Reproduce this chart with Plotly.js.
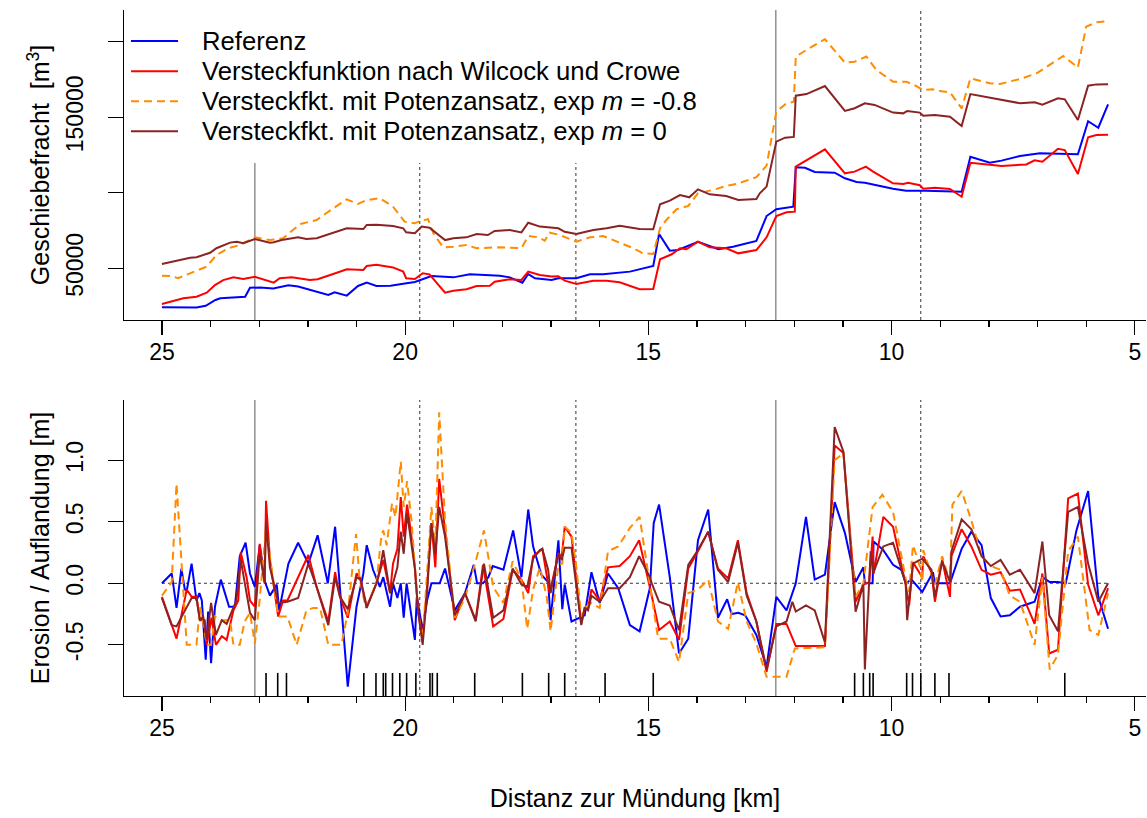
<!DOCTYPE html>
<html>
<head>
<meta charset="utf-8">
<script src="https://cdn.plot.ly/plotly-3.0.1.min.js"></script>
<style>
  html, body { margin: 0; padding: 0; background: #ffffff; }
  #chart { width: 1147px; height: 818px; }
</style>
</head>
<body>
<div id="chart"></div>
<script>
// ---- Geschiebefracht (cumulative bedload volume, m^3) per model ----
const refKm = [25.0,24.29,24.1,23.9,23.8,23.29,23.19,22.98,22.71,22.4,
  22.2,21.99,21.79,21.58,21.45,21.2,20.97,20.79,20.59,20.3,
  20.04,19.8,19.46,19.01,18.67,18.3,18.05,17.85,17.59,17.47,
  17.33,16.99,16.85,16.48,16.2,15.93,15.38,14.9,14.78,14.56,
  14.39,13.98,13.56,13.26,12.78,12.57,12.37,12.02,11.97,11.78,
  11.58,11.17,10.96,10.72,10.55,9.97,9.7,9.3,9.15,8.8,
  8.56,8.38,7.98,7.74,7.36,6.95,6.64,6.17,5.96,5.75,5.55];
const refVol = [24200,24000,25200,29000,30200,31200,37100,37300,36700,38700,
  38000,36100,34600,32300,34100,31900,38300,40500,38300,38500,
  39800,40900,44900,44000,46000,45500,45100,44000,40500,46200,
  43400,42300,43400,43400,46000,46000,47800,51500,72700,61700,
  62100,67600,62600,64300,68100,84600,89100,90800,116900,116600,
  113800,113300,109600,107200,106700,102700,101400,101400,101200,101200,
  100700,123900,119900,121300,124400,126200,126000,125500,147400,143100,158600];

const wcKm = [25.0,24.56,24.29,24.08,23.91,23.74,23.53,23.33,23.09,22.78,
  22.7,22.58,22.33,21.96,21.8,21.48,21.2,20.86,20.79,20.59,
  20.25,20.04,19.98,19.8,19.64,19.5,19.18,19.01,18.74,18.53,
  18.26,18.16,18.05,17.85,17.61,17.47,17.23,16.99,16.85,16.72,
  16.48,16.13,15.86,15.59,15.18,14.9,14.76,14.52,14.35,14.22,
  13.98,13.74,13.4,13.15,12.78,12.57,12.37,12.16,11.99,11.97,
  11.37,10.96,10.76,10.53,10.38,9.97,9.76,9.66,9.42,9.35,
  9.11,8.8,8.56,8.38,7.98,7.74,7.23,7.06,6.9,6.58,
  6.44,6.17,5.96,5.79,5.55];
const wcVol = [26400,30100,31200,33800,38900,42200,44000,42900,44400,41100,
  40500,43400,44000,42300,42700,46200,49300,48900,51500,52400,
  50600,47800,43400,42900,46700,46000,33800,35100,36100,38300,
  38500,41100,41600,42700,42300,47800,45600,44500,44800,41800,
  39600,41800,41800,40700,36100,36300,56000,59300,63300,62600,
  67600,63900,63300,59900,62100,70500,84600,87100,87500,117300,
  128800,112900,114000,117300,114000,106300,105800,106700,105000,102700,
  103400,102500,97400,119900,118600,117700,118800,121500,120600,129200,
  128300,112500,136800,138300,138500];

const m08Km = [25.0,24.8,24.67,24.49,24.08,23.88,23.64,23.4,23.09,22.78,
  22.51,22.16,21.82,21.48,21.2,20.97,20.79,20.52,20.25,20.01,
  19.8,19.7,19.53,19.42,19.22,19.01,18.74,18.53,18.05,17.61,
  17.47,17.26,17.13,17.03,16.82,16.48,16.2,15.93,15.66,15.31,
  15.11,14.9,14.76,14.63,14.42,14.18,13.98,13.67,13.4,13.19,
  12.78,12.68,12.57,12.37,12.16,12.01,11.97,11.75,11.37,10.96,
  10.76,10.52,10.31,9.97,9.7,9.49,9.35,9.15,8.97,8.8,
  8.56,8.38,7.98,7.77,7.36,7.02,6.82,6.47,6.17,6.0,
  5.79,5.55];
const m08Vol = [45100,44900,43400,45600,51100,58800,63300,65400,70500,68700,
  69900,79300,82000,89700,95700,92600,95200,96400,90800,80900,
  79800,81300,82500,73200,63900,64300,65400,63300,63900,63300,
  71400,70500,68300,73600,72100,67600,70500,71400,68100,63300,
  59900,59500,76500,82000,89100,91300,99700,101900,104500,105800,
  110300,114000,118000,153700,159300,160300,190200,194600,201700,186200,
  186800,190200,181300,173600,173600,170700,168100,168500,167200,166600,
  155900,175800,172500,172100,175400,179100,183500,190600,182900,210000,
  212900,213800];

const m0Km = [25.0,24.7,24.42,24.29,24.01,23.88,23.6,23.46,23.33,23.09,
  22.78,22.7,22.54,22.2,22.03,21.82,21.48,21.2,20.86,20.79,
  20.59,20.25,20.04,19.98,19.8,19.66,19.5,19.18,19.01,18.74,
  18.53,18.3,18.16,17.85,17.61,17.47,17.23,16.99,16.85,16.72,
  16.48,16.13,15.86,15.59,15.18,14.9,14.76,14.56,14.35,14.16,
  13.98,13.74,13.4,13.15,12.78,12.71,12.57,12.37,12.19,12.01,
  11.97,11.75,11.58,11.37,10.96,10.76,10.55,10.35,9.97,9.76,
  9.68,9.42,9.35,9.11,8.8,8.56,8.38,7.98,7.74,7.36,
  7.06,6.9,6.58,6.44,6.17,5.96,5.79,5.55];
const m0Vol = [52900,54800,57000,57300,60300,63300,67000,67600,66600,69400,
  67000,67200,68700,70500,69400,69900,73800,76500,76000,78700,
  78900,78000,76500,73800,73200,77600,76900,68700,69900,70500,
  72700,72000,74700,75400,73800,80200,77600,76900,76500,74200,
  72700,75400,76500,78200,76000,75800,92400,94800,98500,97000,
  102300,99000,97900,95200,95900,99700,104100,133900,136500,137000,
  164300,165400,167600,170700,154200,156000,159300,158200,153100,152600,
  154200,153100,151100,151500,150400,144200,165400,163000,161500,159300,
  159900,158400,162600,161900,148200,170900,171800,171900];

// ---- Erosion / Auflandung (bed level change, m) per model ----
const refKm2 = [25.0,24.8,24.7,24.6,24.53,24.49,24.39,24.29,24.23,24.18,
  24.1,24.05,23.99,23.91,23.79,23.62,23.5,23.4,23.28,23.19,
  23.09,22.99,22.88,22.78,22.64,22.59,22.4,22.2,21.99,21.8,
  21.59,21.44,21.18,21.0,20.86,20.79,20.66,20.52,20.45,20.31,
  20.25,20.16,20.09,20.03,19.97,19.8,19.76,19.64,19.55,19.46,
  19.29,19.18,18.98,18.77,18.59,18.52,18.4,18.29,18.2,17.98,
  17.78,17.61,17.47,17.37,17.2,17.06,17.01,16.85,16.77,16.72,
  16.58,16.31,16.17,16.0,15.83,15.62,15.38,15.18,14.97,14.89,
  14.78,14.56,14.37,14.18,13.98,13.77,13.57,13.38,13.29,13.15,
  13.01,12.78,12.57,12.37,12.16,11.97,11.76,11.58,11.37,11.17,
  10.96,10.74,10.58,10.55,10.39,10.37,10.17,9.97,9.8,9.71,
  9.59,9.52,9.37,9.15,9.11,8.8,8.56,8.36,8.15,7.96,
  7.76,7.57,7.36,7.06,6.9,6.75,6.58,6.42,6.2,5.96,
  5.75,5.55];
const refDz = [0,0.08,-0.2,0.12,-0.05,-0.06,0.16,-0.14,-0.08,-0.14,
  -0.62,-0.23,-0.65,-0.19,0.03,-0.19,-0.19,0.22,0.33,0.08,
  -0.03,0.31,0.01,-0.1,-0.01,-0.22,0.16,0.33,0.16,0.39,
  0,0.46,-0.84,-0.19,0.08,0.31,0.11,-0.03,0.05,-0.19,
  0,-0.12,0,-0.28,0,-0.46,-0.11,-0.38,-0.14,0,
  0,0.12,-0.22,-0.08,0.15,0,0,0.05,0.14,0.11,
  0.43,0.05,0.6,0.3,0.07,0.01,-0.3,0.35,-0.21,-0.01,
  -0.31,-0.26,0.09,-0.16,0.08,-0.04,-0.34,-0.39,-0.04,0.49,
  0.64,0.05,-0.57,-0.45,0.35,0.6,-0.28,-0.13,-0.25,-0.24,
  -0.26,-0.42,-0.68,-0.11,-0.22,0,0.54,0.03,0.07,0.66,
  0.41,0.01,0.13,0,0,0.34,0.27,0.15,0.11,0,
  0.03,0,-0.07,0.09,0,0,0.28,0.42,0.31,-0.12,
  -0.27,-0.26,-0.19,-0.15,0.05,0.01,0.01,0,0.43,0.75,
  -0.11,-0.37];

const wcKm2 = [25.0,24.7,24.49,24.39,24.29,24.22,24.12,24.08,23.98,23.89,
  23.77,23.67,23.53,23.43,23.38,23.26,23.19,23.09,22.99,22.89,
  22.86,22.78,22.61,22.51,22.42,22.2,21.99,21.82,21.58,21.44,
  21.34,21.18,21.0,20.92,20.79,20.59,20.45,20.31,20.25,20.16,
  20.09,20.03,19.96,19.87,19.8,19.73,19.64,19.55,19.46,19.38,
  19.3,19.18,18.98,18.77,18.55,18.4,18.19,17.98,17.79,17.61,
  17.47,17.37,17.23,17.18,17.03,16.85,16.78,16.72,16.58,16.48,
  16.38,16.31,16.24,16.17,16.0,15.83,15.59,15.38,15.19,14.97,
  14.78,14.56,14.37,14.18,13.98,13.77,13.57,13.36,13.16,12.98,
  12.78,12.57,12.37,12.16,11.97,11.37,11.17,10.99,10.74,10.58,
  10.46,10.39,10.37,10.17,9.97,9.71,9.64,9.56,9.37,9.35,
  9.18,9.11,8.96,8.8,8.77,8.56,8.36,8.15,7.96,7.76,
  7.57,7.36,7.06,6.9,6.76,6.58,6.37,6.17,5.96,5.75,
  5.55];
const wcDz = [-0.11,-0.45,-0.05,-0.11,-0.11,-0.3,-0.3,-0.5,-0.28,-0.5,
  -0.43,-0.46,-0.22,-0.14,0.25,0.05,-0.14,-0.19,0.32,0,
  0.67,0.19,-0.27,-0.14,-0.14,0.05,0.23,-0.03,-0.31,0.09,
  -0.11,-0.28,0.08,0.04,-0.19,0,0.19,-0.08,0.16,0.28,
  0.7,0.38,0.64,0.38,0.13,-0.24,-0.43,-0.03,0.49,0.13,
  0.85,0.43,-0.3,-0.08,-0.3,0.15,-0.35,-0.29,0.11,0.03,
  -0.08,0.22,0.27,0.28,-0.08,0.24,0.22,0.46,0.38,0.03,
  -0.33,-0.2,-0.2,-0.05,-0.14,0.13,0.14,0.22,0.35,-0.03,
  -0.38,-0.31,-0.46,0.12,0.26,0.42,0.12,0.04,0.35,-0.08,
  -0.31,-0.72,-0.33,-0.33,-0.51,-0.51,1.12,1.06,-0.15,-0.01,
  0.01,0.38,0.08,0.54,0.46,-0.01,-0.18,0.17,0.05,0.22,
  0.09,-0.15,0.19,-0.11,0.22,0.44,0.3,0.11,0.07,0.09,
  -0.06,-0.05,-0.33,0.08,-0.57,-0.54,0.69,0.73,-0.01,-0.26,
  -0.04];

const m08Km2 = [25.0,24.8,24.7,24.49,24.29,24.22,24.16,24.08,23.99,23.91,
  23.79,23.6,23.53,23.4,23.3,23.19,23.09,22.99,22.86,22.78,
  22.61,22.42,22.23,22.03,21.89,21.75,21.58,21.31,21.18,21.01,
  20.94,20.81,20.59,20.49,20.45,20.38,20.27,20.2,20.09,20.03,
  19.96,19.87,19.8,19.73,19.64,19.55,19.46,19.38,19.3,19.18,
  18.98,18.77,18.57,18.38,18.19,17.98,17.79,17.61,17.49,17.37,
  17.23,17.09,17.01,16.85,16.77,16.72,16.58,16.48,16.38,16.31,
  16.17,16.0,15.83,15.62,15.38,15.18,14.97,14.8,14.56,14.37,
  14.18,13.98,13.77,13.57,13.36,13.16,12.98,12.78,12.57,12.16,
  11.99,11.37,11.17,10.99,10.74,10.58,10.39,10.19,9.97,9.71,
  9.64,9.56,9.42,9.37,9.35,9.18,9.11,8.96,8.8,8.75,
  8.56,8.36,8.15,7.96,7.76,7.57,7.36,7.06,6.9,6.75,
  6.58,6.37,6.17,5.93,5.75,5.55];
const m08Dz = [-0.1,0.01,0.81,-0.5,-0.5,-0.19,-0.3,-0.5,-0.5,-0.27,
  -0.3,-0.3,-0.5,-0.5,-0.31,-0.24,-0.49,-0.13,0.45,0.22,
  -0.27,-0.27,-0.5,-0.22,-0.2,-0.2,-0.5,-0.5,-0.24,0.4,
  0.05,-0.2,0,0.38,0.43,0.31,0.65,0.54,0.99,0.62,
  0.83,0.51,0.15,-0.24,-0.46,0.08,0.62,0.3,1.39,0.51,
  -0.28,-0.12,0.15,0.43,-0.03,-0.16,0.18,0.03,-0.37,-0.05,
  0.13,-0.11,-0.39,0.15,0.16,0.46,0.41,0.13,-0.27,-0.2,
  -0.16,-0.2,0.26,0.3,0.45,0.54,0,-0.45,-0.45,-0.64,
  -0.08,-0.05,0.03,-0.31,-0.37,0.01,-0.31,-0.49,-0.76,-0.76,
  -0.53,-0.52,1.0,1.06,-0.11,0,0.62,0.72,0.58,0.04,
  -0.07,0.31,0.14,0.01,0.27,0.08,-0.01,0.22,0.01,0.64,
  0.75,0.51,0.22,0.14,0.11,-0.1,-0.15,-0.5,0.05,-0.7,
  -0.58,0.26,0.38,-0.38,-0.42,-0.08];

const m0Km2 = [25.0,24.8,24.7,24.53,24.39,24.29,24.22,24.15,24.08,23.99,
  23.89,23.77,23.67,23.47,23.38,23.19,23.09,22.99,22.89,22.86,
  22.78,22.61,22.42,22.2,21.99,21.82,21.58,21.44,21.34,21.18,
  21.0,20.92,20.79,20.59,20.52,20.45,20.31,20.25,20.16,20.09,
  20.03,19.96,19.87,19.8,19.73,19.64,19.55,19.46,19.38,19.3,
  19.18,18.98,18.77,18.55,18.38,18.19,17.98,17.79,17.61,17.49,
  17.37,17.23,17.18,17.06,17.01,16.85,16.78,16.72,16.58,16.48,
  16.38,16.31,16.24,16.17,16.0,15.83,15.59,15.38,15.19,14.97,
  14.93,14.78,14.56,14.37,14.18,13.98,13.77,13.57,13.36,13.16,
  12.98,12.78,12.57,12.37,12.16,12.04,11.97,11.76,11.58,11.37,
  11.17,10.99,10.74,10.58,10.55,10.43,10.38,10.17,9.97,9.71,
  9.68,9.56,9.37,9.18,9.11,8.96,8.8,8.77,8.56,8.36,
  8.15,7.96,7.76,7.57,7.36,7.06,6.9,6.76,6.58,6.37,
  6.17,5.96,5.75,5.55];
const m0Dz = [-0.12,-0.34,-0.35,-0.23,-0.12,-0.12,-0.3,-0.27,-0.46,-0.16,
  -0.42,-0.3,-0.33,-0.14,0.19,-0.24,-0.3,0.24,0.01,0.5,
  0.13,-0.16,-0.15,-0.12,0.16,-0.03,-0.34,0.05,-0.11,-0.21,
  0.05,0.03,-0.2,0,0.11,0.27,-0.08,0,0.13,0.42,
  0.24,0.57,0.3,0.12,-0.24,-0.5,-0.08,0.49,0.24,0.62,
  0.38,-0.26,-0.08,-0.31,0.16,-0.28,-0.22,0.12,-0.01,-0.03,
  0.2,0.27,0.28,0.11,-0.08,0.24,0.19,0.29,0.29,-0.03,
  -0.34,-0.2,-0.22,-0.1,-0.15,-0.04,-0.04,0.05,0.22,0.05,
  0,-0.15,-0.18,-0.38,0.15,0.27,0.42,0.11,0.01,0.33,
  -0.1,-0.31,-0.7,-0.35,-0.31,-0.15,-0.23,-0.18,-0.22,-0.48,
  1.27,1.07,-0.23,-0.01,-0.7,0.26,0.08,0.3,0.33,0,
  -0.3,0.16,0.2,0.11,-0.11,0.18,0.01,0.26,0.52,0.44,
  0.22,0.14,0.19,0.07,0.11,-0.08,0.34,-0.26,-0.39,0.58,
  0.62,0.16,-0.15,0];

// Cross sections with bed-level measurements (rug at the bottom of the lower panel)
const measuredKm = [22.86,22.62,22.44,20.85,20.60,20.45,20.40,20.26,20.11,19.97,
  19.78,19.49,19.44,19.34,18.57,17.59,17.05,16.72,15.89,14.90,
  10.76,10.58,10.45,10.38,9.69,9.57,9.40,9.11,8.82,6.44];

// Section boundaries
const solidKm = [23.09, 12.38];
const dashedKm = [19.70, 16.49, 9.40];

// Axis labelling
const majorKm = [25, 20, 15, 10, 5];
const volLabelTicks = [50000, 150000];
const volPlainTicks = [100000, 200000];
const dzTicks = [-0.5, 0, 0.5, 1.0];
const dzTickText = ['-0.5', '0.0', '0.5', '1.0'];

const seriesNames = [
  'Referenz',
  'Versteckfunktion nach Wilcock und Crowe',
  'Versteckfkt. mit Potenzansatz, exp <i>m</i> = -0.8',
  'Versteckfkt. mit Potenzansatz, exp <i>m</i> = 0'
];
const seriesColors = ['#0000ff', '#ff0000', '#ff8c00', '#8b2323'];
const seriesDash = ['solid', 'solid', '8px,5px', 'solid'];

const FONT = '"Liberation Sans", Arial, Helvetica, sans-serif';

// page geometry (px) used to place the legend block
const W = 1147, H = 818;
const M = { l: 124, r: 1, t: 10, b: 122 };
const plotW = W - M.l - M.r, plotH = H - M.t - M.b;
const px2x = px => (px - M.l) / plotW;
const px2y = py => (H - M.b - py) / plotH;
const legendRowPx = [41, 71.3, 101.3, 131.3];
const legendLinePx = [131, 178];
const legendTextPx = 200;

const topSets = [[refKm, refVol], [wcKm, wcVol], [m08Km, m08Vol], [m0Km, m0Vol]];
const botSets = [[refKm2, refDz], [wcKm2, wcDz], [m08Km2, m08Dz], [m0Km2, m0Dz]];

const traces = [];
// dotted zero line across the modelled reach
traces.push({
  x: [refKm2[0], refKm2[refKm2.length - 1]], y: [0, 0],
  xaxis: 'x2', yaxis: 'y2', mode: 'lines', showlegend: false, hoverinfo: 'skip',
  line: { color: '#333333', width: 1.1, dash: 'dot' }
});
topSets.forEach((s, i) => traces.push({
  x: s[0], y: s[1], xaxis: 'x', yaxis: 'y', mode: 'lines', name: seriesNames[i],
  showlegend: false,
  line: { color: seriesColors[i], width: 2, dash: seriesDash[i] }
}));
botSets.forEach((s, i) => traces.push({
  x: s[0], y: s[1], xaxis: 'x2', yaxis: 'y2', mode: 'lines', name: seriesNames[i],
  showlegend: false,
  line: { color: seriesColors[i], width: 2, dash: seriesDash[i] }
}));

const shapes = [];
[['x', 'y domain'], ['x2', 'y2 domain']].forEach(([xr, yr]) => {
  solidKm.forEach(k => shapes.push({ type: 'line', xref: xr, yref: yr, x0: k, x1: k, y0: 0, y1: 1,
    layer: 'below', line: { color: '#808080', width: 1.3 } }));
  dashedKm.forEach(k => shapes.push({ type: 'line', xref: xr, yref: yr, x0: k, x1: k, y0: 0, y1: 1,
    layer: 'below', line: { color: '#333333', width: 1, dash: '3px,3px' } }));
});
measuredKm.forEach(k => shapes.push({ type: 'line', xref: 'x2', yref: 'y2 domain', x0: k, x1: k,
  y0: 0, y1: 0.078, line: { color: '#000000', width: 1.6 } }));

// legend: white box, key lines and labels
shapes.push({ type: 'rect', xref: 'paper', yref: 'paper', x0: px2x(127), x1: px2x(702),
  y0: px2y(163), y1: 1, layer: 'above', fillcolor: '#ffffff', line: { width: 0 } });
const annotations = [];
seriesNames.forEach((name, i) => {
  const yy = px2y(legendRowPx[i]);
  shapes.push({ type: 'line', xref: 'paper', yref: 'paper',
    x0: px2x(legendLinePx[0]), x1: px2x(legendLinePx[1]), y0: yy, y1: yy, layer: 'above',
    line: { color: seriesColors[i], width: 2, dash: seriesDash[i] } });
  annotations.push({ xref: 'paper', yref: 'paper', x: px2x(legendTextPx), y: yy,
    xanchor: 'left', yanchor: 'middle', showarrow: false, text: name,
    font: { family: FONT, size: 25.7, color: '#000000' } });
});

const tickFont = { family: FONT, size: 23, color: '#000000' };
const titleFont = { family: FONT, size: 25, color: '#000000' };

function xAxis(anchor, title) {
  const ax = {
    anchor: anchor, domain: [0, 1], range: [25.78, 4.77], autorange: false,
    showline: true, linecolor: '#000000', linewidth: 1.3,
    showgrid: false, zeroline: false,
    tickmode: 'array', tickvals: majorKm, ticktext: majorKm.map(String),
    ticks: 'outside', ticklen: 14, tickwidth: 1.3, tickcolor: '#000000',
    minor: { dtick: 1, tick0: 0, ticks: 'outside', ticklen: 6, tickwidth: 1.3, tickcolor: '#000000', showgrid: false },
    tickfont: tickFont, ticklabelstandoff: -3
  };
  if (title) ax.title = { text: title, font: titleFont, standoff: 49 };
  return ax;
}
function yAxis(domain, range, vals, text, title, plainVals) {
  const ax = {
    domain: domain, range: range, autorange: false,
    showline: true, linecolor: '#000000', linewidth: 1.3,
    showgrid: false, zeroline: false,
    tickmode: 'array', tickvals: vals, ticktext: text, tickangle: -90,
    ticks: 'outside', ticklen: 15, tickwidth: 1.3, tickcolor: '#000000',
    tickfont: tickFont, ticklabelstandoff: 16,
    title: { text: title, font: titleFont, standoff: 4 }
  };
  if (plainVals) ax.minor = { tickmode: 'array', tickvals: plainVals, ticks: 'outside',
    ticklen: 15, tickwidth: 1.3, tickcolor: '#000000', showgrid: false };
  return ax;
}

const layout = {
  width: W, height: H,
  margin: M,
  paper_bgcolor: '#ffffff', plot_bgcolor: '#ffffff',
  font: { family: FONT, color: '#000000' },
  showlegend: false,
  xaxis: xAxis('y', null),
  yaxis: yAxis([px2y(320), 1], [15760, 221060], volLabelTicks, volLabelTicks.map(String),
    'Geschiebefracht  [m<sup>3</sup>]', volPlainTicks),
  xaxis2: xAxis('y2', 'Distanz zur Mündung [km]'),
  yaxis2: yAxis([0, px2y(400)], [-0.916, 1.49], dzTicks, dzTickText, 'Erosion / Auflandung [m]', null),
  shapes: shapes,
  annotations: annotations
};

Plotly.newPlot('chart', traces, layout, { displayModeBar: false, staticPlot: true });
</script>
</body>
</html>
